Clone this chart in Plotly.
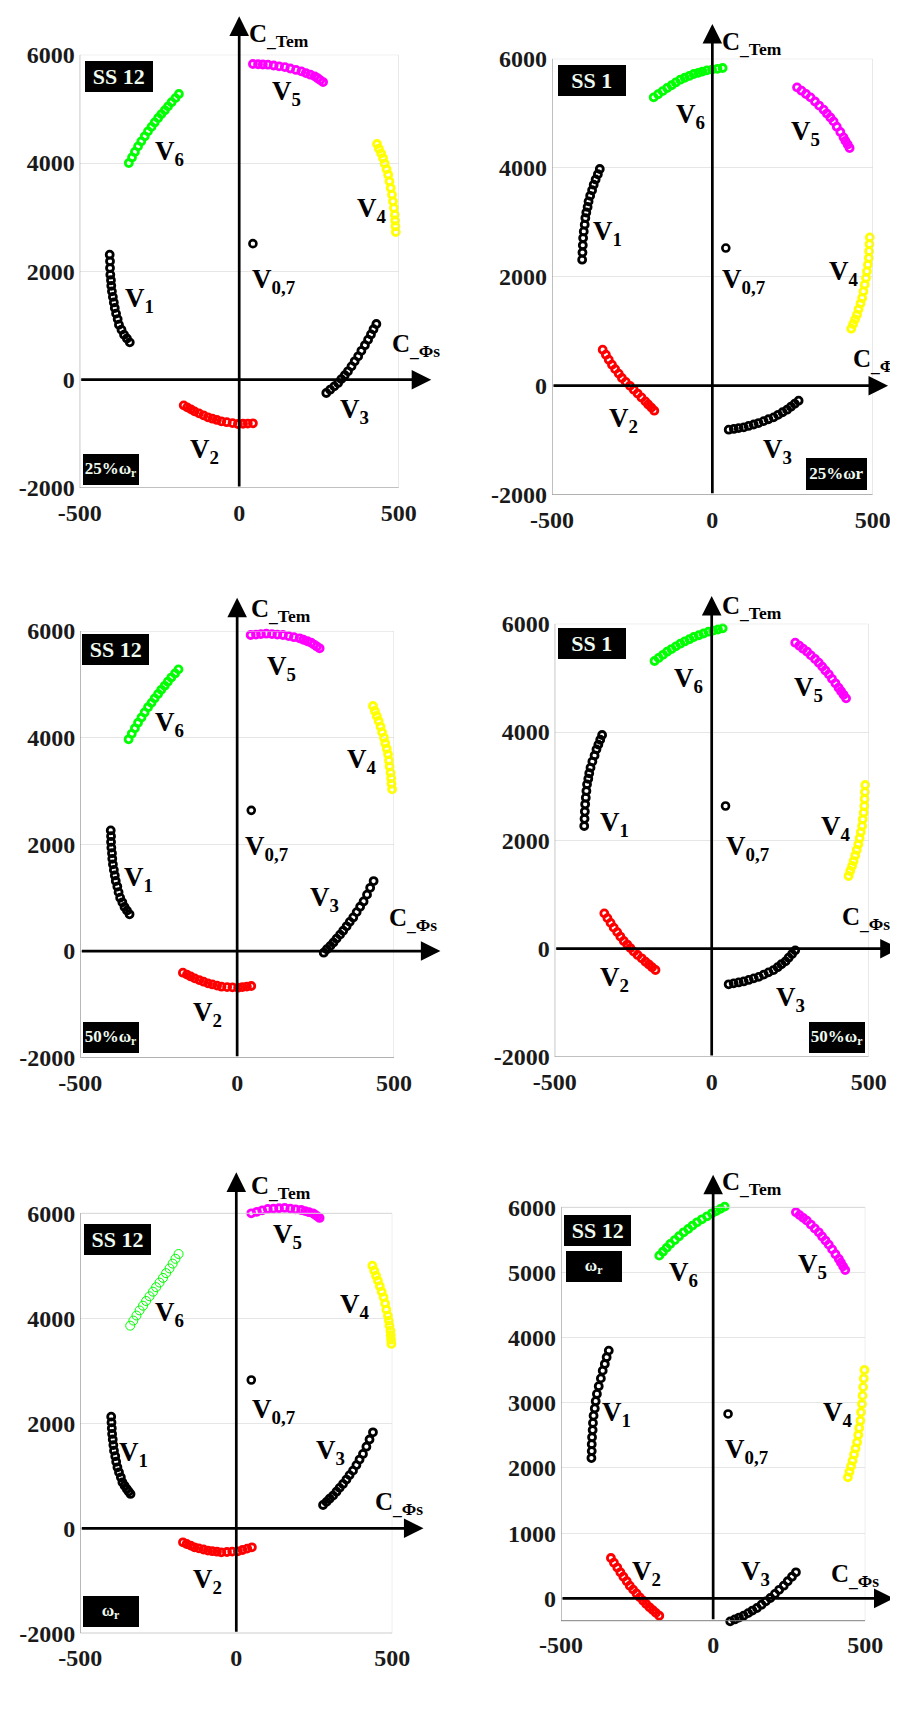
import plotly.graph_objects as go

W, H = 898, 1720

# ---------------- tick labels ----------------
X_TICKS = [-500, 0, 500]
X_TICK_TEXT = ['-500', '0', '500']
Y_TICKS = [-2000, 0, 2000, 4000, 6000]
Y_TICK_TEXT = ['-2000', '0', '2000', '4000', '6000']
Y_TICKS_P6 = [0, 1000, 2000, 3000, 4000, 5000, 6000]
Y_TICK_TEXT_P6 = ['0', '1000', '2000', '3000', '4000', '5000', '6000']

# ---------------- Panel 1 : SS 12, 25% wr ----------------
P1_V1_X = [-406, -405, -405, -404, -402, -401, -399, -396, -393, -390, -386, -381, -377, -369, -361, -352, -343]
P1_V1_Y = [2308, 2185, 2061, 1938, 1836, 1733, 1631, 1528, 1426, 1323, 1220, 1118, 1015, 923, 831, 760, 689]
P1_V2_X = [-174, -163, -151, -140, -126, -112, -98, -84, -70, -56, -39, -21, -4, 12, 27, 43]
P1_V2_Y = [-474, -511, -548, -585, -622, -658, -695, -720, -744, -769, -785, -802, -818, -814, -810, -806]
P1_V3_X = [273, 285, 298, 310, 320, 331, 341, 352, 362, 373, 383, 394, 404, 413, 421, 430]
P1_V3_Y = [-246, -185, -123, -62, 10, 82, 154, 246, 339, 431, 533, 636, 738, 835, 931, 1028]
P1_V4_X = [432, 438, 445, 451, 456, 462, 467, 471, 475, 479, 482, 485, 488, 489, 490, 491]
P1_V4_Y = [4351, 4265, 4178, 4092, 3990, 3887, 3785, 3662, 3538, 3415, 3292, 3169, 3046, 2939, 2833, 2726]
P1_V5_X = [43, 59, 74, 90, 108, 125, 143, 160, 178, 195, 209, 223, 237, 246, 254, 263]
P1_V5_Y = [5828, 5824, 5819, 5815, 5801, 5786, 5772, 5745, 5719, 5692, 5661, 5631, 5600, 5565, 5530, 5495]
P1_V6_X = [-346, -336, -327, -317, -307, -296, -286, -275, -265, -254, -244, -233, -223, -212, -200, -189]
P1_V6_Y = [4000, 4103, 4205, 4308, 4400, 4493, 4585, 4667, 4749, 4831, 4903, 4974, 5046, 5122, 5198, 5274]
P1_V07_X = [43]
P1_V07_Y = [2511]

# ---------------- Panel 2 : SS 1, 25% wr ----------------
P2_V1_X = [-406, -405, -404, -403, -401, -398, -396, -393, -389, -386, -381, -375, -370, -364, -357, -351]
P2_V1_Y = [2312, 2444, 2577, 2709, 2831, 2954, 3076, 3178, 3280, 3382, 3484, 3586, 3688, 3784, 3880, 3976]
P2_V2_X = [-342, -332, -323, -313, -303, -292, -282, -270, -257, -245, -233, -221, -209, -200, -190, -181]
P2_V2_Y = [661, 569, 477, 385, 304, 222, 141, 70, -2, -73, -144, -216, -287, -344, -402, -459]
P2_V3_X = [51, 67, 82, 98, 113, 129, 144, 160, 175, 191, 205, 219, 233, 245, 257, 269]
P2_V3_Y = [-807, -793, -779, -765, -738, -712, -685, -650, -616, -581, -534, -487, -440, -385, -330, -275]
P2_V4_X = [433, 439, 445, 451, 456, 462, 467, 471, 475, 479, 482, 485, 488, 489, 490, 491]
P2_V4_Y = [1046, 1132, 1217, 1303, 1405, 1507, 1609, 1731, 1854, 1976, 2098, 2221, 2343, 2469, 2596, 2722]
P2_V5_X = [264, 278, 292, 306, 320, 333, 347, 357, 368, 378, 388, 399, 409, 415, 422, 428]
P2_V5_Y = [5474, 5413, 5352, 5291, 5215, 5140, 5064, 4993, 4921, 4850, 4752, 4655, 4557, 4492, 4426, 4361]
P2_V6_X = [-183, -169, -155, -141, -127, -114, -100, -86, -72, -58, -44, -31, -17, -1, 16, 32]
P2_V6_Y = [5291, 5348, 5405, 5462, 5513, 5564, 5615, 5650, 5684, 5719, 5741, 5764, 5786, 5800, 5815, 5829]
P2_V07_X = [42]
P2_V07_Y = [2526]

# ---------------- Panel 3 : SS 12, 50% wr ----------------
P3_V1_X = [-403, -402, -402, -401, -399, -398, -396, -393, -390, -387, -382, -378, -373, -366, -359, -351, -343]
P3_V1_Y = [2262, 2154, 2046, 1938, 1834, 1729, 1625, 1521, 1417, 1313, 1209, 1104, 1000, 913, 825, 757, 688]
P3_V2_X = [-173, -160, -148, -135, -121, -107, -93, -79, -64, -50, -32, -15, 3, 17, 31, 45]
P3_V2_Y = [-406, -442, -477, -513, -544, -575, -606, -627, -648, -669, -675, -682, -688, -677, -667, -656]
P3_V3_X = [276, 286, 297, 307, 317, 328, 338, 349, 359, 370, 381, 392, 403, 414, 424, 435]
P3_V3_Y = [-31, 33, 96, 160, 233, 307, 380, 463, 547, 630, 730, 830, 930, 1057, 1185, 1312]
P3_V4_X = [433, 439, 445, 451, 457, 462, 468, 472, 477, 481, 484, 486, 489, 491, 492, 494]
P3_V4_Y = [4594, 4500, 4407, 4313, 4209, 4104, 4000, 3896, 3792, 3688, 3573, 3459, 3344, 3240, 3135, 3031]
P3_V5_X = [43, 60, 76, 93, 111, 128, 146, 164, 181, 199, 211, 224, 236, 245, 254, 263]
P3_V5_Y = [5925, 5933, 5942, 5950, 5942, 5933, 5925, 5904, 5884, 5863, 5836, 5808, 5781, 5746, 5710, 5675]
P3_V6_X = [-346, -336, -326, -316, -305, -295, -284, -273, -263, -252, -242, -231, -221, -210, -198, -187]
P3_V6_Y = [3969, 4073, 4176, 4280, 4377, 4473, 4570, 4653, 4737, 4820, 4897, 4973, 5050, 5127, 5204, 5281]
P3_V07_X = [45]
P3_V07_Y = [2637]

# ---------------- Panel 4 : SS 1, 50% wr ----------------
P4_V1_X = [-406, -405, -404, -403, -401, -399, -397, -393, -390, -386, -380, -373, -367, -361, -355, -349]
P4_V1_Y = [2265, 2398, 2532, 2665, 2788, 2911, 3034, 3137, 3239, 3342, 3455, 3567, 3680, 3768, 3857, 3945]
P4_V2_X = [-342, -332, -322, -312, -301, -291, -280, -269, -259, -248, -236, -223, -211, -200, -190, -179]
P4_V2_Y = [652, 564, 476, 388, 306, 224, 142, 76, 11, -55, -117, -178, -240, -291, -343, -394]
P4_V3_X = [54, 70, 86, 102, 118, 134, 150, 166, 181, 197, 210, 222, 235, 245, 256, 266]
P4_V3_Y = [-658, -640, -623, -605, -577, -548, -520, -478, -437, -395, -342, -288, -235, -167, -99, -31]
P4_V4_X = [436, 441, 447, 452, 457, 462, 467, 471, 475, 479, 481, 484, 486, 487, 488, 489]
P4_V4_Y = [1342, 1434, 1526, 1618, 1721, 1823, 1926, 2039, 2152, 2265, 2388, 2511, 2634, 2763, 2893, 3022]
P4_V5_X = [266, 279, 291, 304, 316, 329, 341, 352, 362, 373, 383, 394, 404, 412, 420, 428]
P4_V5_Y = [5649, 5594, 5538, 5483, 5415, 5348, 5280, 5208, 5137, 5065, 4983, 4900, 4818, 4753, 4687, 4622]
P4_V6_X = [-182, -169, -155, -142, -128, -114, -100, -86, -71, -57, -41, -26, -10, 5, 20, 35]
P4_V6_Y = [5311, 5368, 5426, 5483, 5532, 5582, 5631, 5672, 5713, 5754, 5787, 5819, 5852, 5873, 5893, 5914]
P4_V07_X = [44]
P4_V07_Y = [2634]

# ---------------- Panel 5 : SS 12, wr ----------------
P5_V1_X = [-401, -400, -399, -398, -396, -394, -392, -388, -385, -381, -376, -370, -365, -358, -351, -345, -339]
P5_V1_Y = [2127, 2017, 1907, 1797, 1691, 1585, 1479, 1373, 1268, 1162, 1067, 971, 876, 812, 749, 701, 654]
P5_V2_X = [-171, -159, -146, -134, -120, -105, -91, -77, -62, -48, -30, -13, 5, 20, 35, 50]
P5_V2_Y = [-267, -299, -330, -362, -383, -404, -425, -436, -446, -457, -451, -444, -438, -413, -387, -362]
P5_V3_X = [278, 289, 299, 310, 321, 331, 342, 353, 363, 374, 385, 395, 406, 417, 427, 438]
P5_V3_Y = [444, 503, 563, 622, 696, 770, 844, 929, 1013, 1098, 1204, 1310, 1416, 1554, 1691, 1829]
P5_V4_X = [436, 442, 448, 454, 460, 466, 472, 477, 481, 486, 489, 491, 494, 495, 496, 497]
P5_V4_Y = [5003, 4908, 4812, 4717, 4611, 4506, 4400, 4284, 4167, 4051, 3956, 3860, 3765, 3680, 3596, 3511]
P5_V5_X = [48, 66, 83, 101, 119, 137, 155, 173, 190, 208, 221, 233, 246, 253, 260, 267]
P5_V5_Y = [6000, 6028, 6055, 6083, 6089, 6096, 6102, 6089, 6076, 6063, 6042, 6021, 6000, 5970, 5941, 5911]
P5_V6_X = [-340, -330, -320, -310, -299, -289, -278, -267, -257, -246, -235, -225, -214, -204, -195, -185]
P5_V6_Y = [3860, 3957, 4053, 4150, 4240, 4330, 4420, 4507, 4593, 4680, 4770, 4860, 4950, 5042, 5133, 5225]
P5_V07_X = [48]
P5_V07_Y = [2825]

# ---------------- Panel 6 : SS 12, wr ----------------
P6_V1_X = [-400, -399, -399, -398, -396, -395, -393, -389, -386, -382, -376, -369, -363, -356, -350, -343]
P6_V1_Y = [2153, 2259, 2365, 2471, 2582, 2692, 2803, 2914, 3025, 3136, 3255, 3375, 3494, 3596, 3699, 3801]
P6_V2_X = [-336, -326, -315, -305, -295, -284, -274, -263, -252, -241, -230, -220, -209, -198, -188, -177]
P6_V2_Y = [619, 546, 472, 399, 331, 262, 194, 134, 75, 15, -36, -87, -138, -181, -223, -266]
P6_V3_X = [56, 71, 85, 100, 115, 129, 144, 159, 173, 188, 203, 217, 232, 245, 259, 272]
P6_V3_Y = [-353, -324, -295, -266, -227, -187, -148, -97, -46, 5, 68, 131, 194, 262, 331, 399]
P6_V4_X = [443, 448, 453, 458, 463, 468, 473, 477, 480, 484, 486, 489, 491, 493, 495, 497]
P6_V4_Y = [1857, 1942, 2028, 2113, 2207, 2300, 2394, 2505, 2615, 2726, 2854, 2982, 3110, 3241, 3373, 3504]
P6_V5_X = [272, 284, 296, 308, 321, 334, 347, 358, 369, 380, 391, 402, 413, 420, 427, 434]
P6_V5_Y = [5923, 5880, 5838, 5795, 5735, 5676, 5616, 5553, 5490, 5427, 5354, 5280, 5207, 5151, 5094, 5038]
P6_V6_X = [-177, -165, -153, -141, -126, -112, -97, -82, -68, -53, -37, -20, -4, 10, 24, 38]
P6_V6_Y = [5258, 5318, 5377, 5437, 5497, 5556, 5616, 5667, 5719, 5770, 5816, 5862, 5908, 5942, 5976, 6010]
P6_V07_X = [49]
P6_V07_Y = [2829]

# ---------------- styling / layout ----------------
COLORS = {'V1': '#000000', 'V2': '#ff0000', 'V3': '#000000',
          'V4': '#ffff00', 'V5': '#ff00ff', 'V6': '#00ff00'}
SUB = {'V1': 'V<sub>1</sub>', 'V2': 'V<sub>2</sub>', 'V3': 'V<sub>3</sub>',
       'V4': 'V<sub>4</sub>', 'V5': 'V<sub>5</sub>', 'V6': 'V<sub>6</sub>',
       'V07': 'V<sub>0,7</sub>'}
SERIF = 'Liberation Serif'
GRID = '#e6e6e6'
AXL = '#808080'
EDGE = '#d9d9d9'

# box = pixel box (left, top, right, bottom) of the visible frame; yv = frame values;
# yr = axis range (slightly larger where marks poke out of the frame)
panels = [
    dict(box=(71.7, 46.7, 390.7, 480.0), yv=(-2000, 6000), yr=(-2000, 6000), yt=Y_TICKS, ytt=Y_TICK_TEXT,
         series={'V1': (P1_V1_X, P1_V1_Y), 'V2': (P1_V2_X, P1_V2_Y), 'V3': (P1_V3_X, P1_V3_Y),
                 'V4': (P1_V4_X, P1_V4_Y), 'V5': (P1_V5_X, P1_V5_Y), 'V6': (P1_V6_X, P1_V6_Y)},
         v07=(P1_V07_X, P1_V07_Y), thin=(), tip=(602, 6708),
         lab={'V5': (148, 5292), 'V6': (-218, 4185), 'V4': (417, 3138), 'V07': (106, 1828),
              'V1': (-312, 1477), 'V3': (362, -585), 'V2': (-108, -1323)},
         ctem=(26, 6357), cphi=(472, 634),
         ss=('SS 12', (76.7, 52.7, 144.3, 84.0)), sp=('25%ω<sub>r</sub>', (75.0, 446.0, 130.7, 477.3))),
    dict(box=(544.0, 50.7, 864.7, 486.7), yv=(-2000, 6000), yr=(-2000, 6000), yt=Y_TICKS, ytt=Y_TICK_TEXT,
         series={'V1': (P2_V1_X, P2_V1_Y), 'V2': (P2_V2_X, P2_V2_Y), 'V3': (P2_V3_X, P2_V3_Y),
                 'V4': (P2_V4_X, P2_V4_Y), 'V5': (P2_V5_X, P2_V5_Y), 'V6': (P2_V6_X, P2_V6_Y)},
         v07=(P2_V07_X, P2_V07_Y), thin=(), tip=(548, 6636),
         lab={'V6': (-69, 4942), 'V5': (290, 4636), 'V1': (-328, 2801), 'V07': (98, 1914),
              'V4': (410, 2067), 'V2': (-277, -624), 'V3': (202, -1205)},
         ctem=(25, 6287), cphi=(431, 459),
         ss=('SS 1', (549.7, 57.3, 617.3, 88.3)), sp=('25%ωr', (798.3, 450.0, 859.0, 481.7))),
    dict(box=(72.3, 623.0, 386.0, 1049.7), yv=(-2000, 6000), yr=(-2000, 6000), yt=Y_TICKS, ytt=Y_TICK_TEXT,
         series={'V1': (P3_V1_X, P3_V1_Y), 'V2': (P3_V2_X, P3_V2_Y), 'V3': (P3_V3_X, P3_V3_Y),
                 'V4': (P3_V4_X, P3_V4_Y), 'V5': (P3_V5_X, P3_V5_Y), 'V6': (P3_V6_X, P3_V6_Y)},
         v07=(P3_V07_X, P3_V07_Y), thin=(), tip=(648, 6625),
         lab={'V5': (141, 5300), 'V6': (-215, 4263), 'V4': (398, 3563), 'V07': (93, 1938),
              'V1': (-313, 1344), 'V3': (279, 969), 'V2': (-95, -1188)},
         ctem=(37, 6375), cphi=(479, 594),
         ss=('SS 12', (74.0, 625.7, 141.3, 656.3)), sp=('50%ω<sub>r</sub>', (75.3, 1013.7, 131.0, 1044.7))),
    dict(box=(546.7, 615.7, 860.7, 1049.0), yv=(-2000, 6000), yr=(-2000, 6000), yt=Y_TICKS, ytt=Y_TICK_TEXT,
         series={'V1': (P4_V1_X, P4_V1_Y), 'V2': (P4_V2_X, P4_V2_Y), 'V3': (P4_V3_X, P4_V3_Y),
                 'V4': (P4_V4_X, P4_V4_Y), 'V5': (P4_V5_X, P4_V5_Y), 'V6': (P4_V6_X, P4_V6_Y)},
         v07=(P4_V07_X, P4_V07_Y), thin=(), tip=(599, 6511),
         lab={'V6': (-73, 4954), 'V5': (309, 4788), 'V1': (-310, 2308), 'V07': (113, 1865),
              'V4': (397, 2234), 'V2': (-308, -566), 'V3': (251, -935)},
         ctem=(28, 6295), cphi=(408, 560),
         ss=('SS 1', (549.7, 620.3, 617.3, 651.3)), sp=('50%ω<sub>r</sub>', (801.3, 1013.7, 857.3, 1044.7))),
    dict(box=(72.3, 1205.3, 384.3, 1625.3), yv=(-2000, 6000), yr=(-2000, 6160), yt=Y_TICKS, ytt=Y_TICK_TEXT,
         series={'V1': (P5_V1_X, P5_V1_Y), 'V2': (P5_V2_X, P5_V2_Y), 'V3': (P5_V3_X, P5_V3_Y),
                 'V4': (P5_V4_X, P5_V4_Y), 'V5': (P5_V5_X, P5_V5_Y), 'V6': (P5_V6_X, P5_V6_Y)},
         v07=(P5_V07_X, P5_V07_Y), thin=('V6',), tip=(600, 6781),
         lab={'V5': (163, 5575), 'V6': (-214, 4083), 'V4': (379, 4241), 'V07': (118, 2241),
              'V1': (-328, 1416), 'V3': (302, 1448), 'V2': (-91, -997)},
         ctem=(40, 6495), cphi=(438, 476),
         ss=('SS 12', (75.7, 1216.0, 142.7, 1247.0)), sp=('ω<sub>r</sub>', (75.3, 1588.3, 131.0, 1619.3))),
    dict(box=(553.0, 1199.3, 857.3, 1612.7), yv=(-343, 6000), yr=(-400, 6060), yt=Y_TICKS_P6, ytt=Y_TICK_TEXT_P6,
         series={'V1': (P6_V1_X, P6_V1_Y), 'V2': (P6_V2_X, P6_V2_Y), 'V3': (P6_V3_X, P6_V3_Y),
                 'V4': (P6_V4_X, P6_V4_Y), 'V5': (P6_V5_X, P6_V5_Y), 'V6': (P6_V6_X, P6_V6_Y)},
         v07=(P6_V07_X, P6_V07_Y), thin=(), tip=(593, 6501),
         lab={'V6': (-97, 4977), 'V5': (328, 5105), 'V1': (-316, 2829), 'V07': (111, 2266),
              'V4': (410, 2829), 'V2': (-220, 384), 'V3': (139, 384)},
         ctem=(24, 6358), cphi=(380, 348),
         ss=('SS 12', (555.7, 1206.7, 623.0, 1237.7)), sp=('ω<sub>r</sub>', (558.3, 1242.7, 614.3, 1273.3))),
]

TICKFONT = dict(family=SERIF, size=24, color='#1a1a1a', weight='bold')
LABFONT = dict(family=SERIF, size=27, color='black', weight='bold')
AXFONT = dict(family=SERIF, size=25, color='black', weight='bold')
SSFONT = dict(family=SERIF, size=22, color='#effaef', weight='bold')
SPFONT = dict(family=SERIF, size=17, color='#effaef', weight='bold')

fig = go.Figure()
layout = {}
annotations = []
shapes = []

for i, p in enumerate(panels, start=1):
    xn = 'x' if i == 1 else f'x{i}'
    yn = 'y' if i == 1 else f'y{i}'
    xk = 'xaxis' if i == 1 else f'xaxis{i}'
    yk = 'yaxis' if i == 1 else f'yaxis{i}'
    l, t, r, b = p['box']
    yv0, yv1 = p['yv']
    yr0, yr1 = p['yr']
    ppu = (b - t) / (yv1 - yv0)
    dt = t - (yr1 - yv1) * ppu
    db = b + (yv0 - yr0) * ppu

    def to_paper(x, y, l=l, r=r, dt=dt, ppu=ppu, yr1=yr1):
        px = l + (x + 500) / 1000 * (r - l)
        py = dt + (yr1 - y) * ppu
        return px / W, 1 - py / H

    layout[xk] = dict(domain=[l / W, r / W], anchor=yn, range=[-500, 500],
                      tickmode='array', tickvals=X_TICKS, ticktext=X_TICK_TEXT,
                      showgrid=False, zeroline=False, showline=False, ticks='',
                      tickfont=TICKFONT, ticklabelstandoff=int(round(8 - (db - b))),
                      fixedrange=True, automargin=False)
    layout[yk] = dict(domain=[1 - db / H, 1 - dt / H], anchor=xn, range=[yr0, yr1],
                      tickmode='array', tickvals=p['yt'], ticktext=p['ytt'],
                      showgrid=True, gridcolor=GRID, gridwidth=1, zeroline=False,
                      showline=False, ticks='',
                      tickfont=TICKFONT, ticklabelstandoff=4, fixedrange=True, automargin=False)

    # frame: dark left/bottom, light top/right
    shapes.append(dict(type='line', xref=xn, yref=yn, x0=-500, x1=500, y0=yv1, y1=yv1,
                       line=dict(color=EDGE, width=1)))
    shapes.append(dict(type='line', xref=xn, yref=yn, x0=500, x1=500, y0=yv0, y1=yv1,
                       line=dict(color=EDGE, width=1)))
    shapes.append(dict(type='line', xref=xn, yref=yn, x0=-500, x1=-500, y0=yv0, y1=yv1,
                       line=dict(color=AXL, width=1)))
    shapes.append(dict(type='line', xref=xn, yref=yn, x0=-500, x1=500, y0=yv0, y1=yv0,
                       line=dict(color=AXL, width=1)))

    for name, (xs, ys) in p['series'].items():
        lw = 1 if name in p['thin'] else 2.8
        sz = 9 if name in p['thin'] else 7
        fig.add_trace(go.Scatter(x=xs, y=ys, mode='markers', xaxis=xn, yaxis=yn,
                                 cliponaxis=False, hoverinfo='skip',
                                 marker=dict(symbol='circle-open', size=sz, color=COLORS[name],
                                             line=dict(width=lw, color=COLORS[name]))))
    vx, vy = p['v07']
    fig.add_trace(go.Scatter(x=vx, y=vy, mode='markers', xaxis=xn, yaxis=yn,
                             cliponaxis=False, hoverinfo='skip',
                             marker=dict(symbol='circle-open', size=7, color='black',
                                         line=dict(width=2.6, color='black'))))

    # axis arrows
    tx, ty = p['tip']
    annotations.append(dict(xref=xn, yref=yn, axref=xn, ayref=yn, x=tx, y=0, ax=-500, ay=0,
                            text='', showarrow=True, arrowhead=2, arrowsize=1.45,
                            arrowwidth=2.7, arrowcolor='black', standoff=0))
    annotations.append(dict(xref=xn, yref=yn, axref=xn, ayref=yn, x=0, y=ty, ax=0, ay=yv0,
                            text='', showarrow=True, arrowhead=2, arrowsize=1.45,
                            arrowwidth=2.7, arrowcolor='black', standoff=0))

    # V labels
    for name, (lx, ly) in p['lab'].items():
        px, py = to_paper(lx, ly)
        annotations.append(dict(xref='paper', yref='paper', x=px, y=py, text=SUB[name], showarrow=False,
                                xanchor='center', yanchor='middle', font=LABFONT))
    px, py = to_paper(*p['ctem'])
    annotations.append(dict(xref='paper', yref='paper', x=px, y=py, text='C<sub>_Tem</sub>', showarrow=False,
                            xanchor='left', yanchor='middle', font=AXFONT))
    px, py = to_paper(*p['cphi'])
    annotations.append(dict(xref='paper', yref='paper', x=px, y=py, text='C<sub>_Φs</sub>', showarrow=False,
                            xanchor='left', yanchor='middle', font=AXFONT))

    # black label boxes
    for (txt, (bl, bt, br, bb)), fnt in ((p['ss'], SSFONT), (p['sp'], SPFONT)):
        annotations.append(dict(xref='paper', yref='paper', x=bl / W, y=1 - bt / H,
                                xanchor='left', yanchor='top', text=txt, showarrow=False,
                                bgcolor='black', borderpad=0, borderwidth=0,
                                width=br - bl, height=bb - bt, align='center', valign='middle',
                                font=fnt))

layout.update(dict(width=W, height=H, margin=dict(l=0, r=0, t=0, b=0),
                   paper_bgcolor='white', plot_bgcolor='white', showlegend=False,
                   template='none', font=dict(family=SERIF),
                   annotations=annotations, shapes=shapes))
fig.update_layout(**layout)
fig.write_html('out.html')
